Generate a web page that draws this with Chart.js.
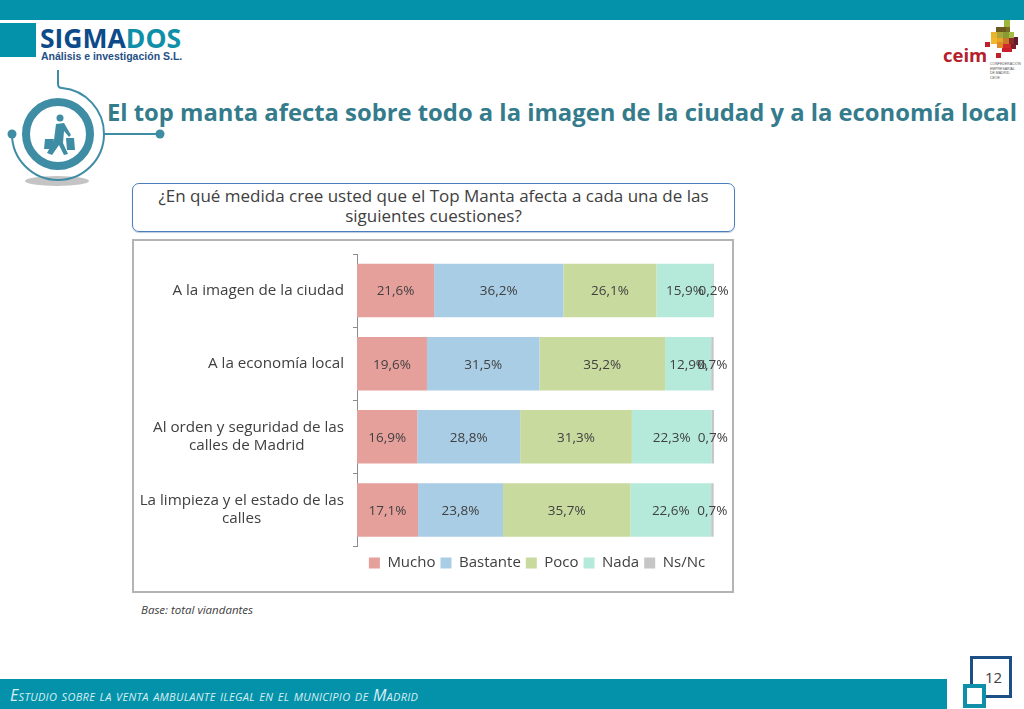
<!DOCTYPE html>
<html lang="es">
<head>
<meta charset="utf-8">
<title>Top manta</title>
<style>
html,body{margin:0;padding:0;background:#fff;width:1024px;height:709px;overflow:hidden}
body{position:relative;font-family:'Open Sans',sans-serif;color:#404040}
.abs{position:absolute;white-space:nowrap}
</style>
<script src="https://cdn.jsdelivr.net/npm/chart.js@4"></script>
</head>
<body>
<svg class="abs" style="left:0;top:0" width="1024" height="709">
  <rect x="0" y="0" width="1024" height="20" fill="#0492ab"/>
  <rect x="0" y="23" width="36" height="34" fill="#0492ab"/>
  <rect x="0" y="679" width="947" height="30" fill="#0492ab"/>
  <!-- icon -->
  <ellipse cx="57" cy="181" rx="32" ry="5" fill="#c4c4c4"/>
  <path d="M58 70V84Q58 88 62 88A46 46 0 0 1 104 134A46 46 0 0 1 12 134" fill="none" stroke="#3f8ca5" stroke-width="2"/>
  <circle cx="58" cy="134" r="32" fill="none" stroke="#3f8ca5" stroke-width="8"/>
  <circle cx="12" cy="134" r="4.5" fill="#3f8ca5"/>
  <circle cx="160" cy="134" r="4.5" fill="#3f8ca5"/>
  <path d="M105 134H160" stroke="#3f8ca5" stroke-width="2"/>
  <circle cx="60" cy="118" r="3.5" fill="#3f8ca5"/>
  <path d="M56 124L64 123L71 135L69 137L64 131L63 143L68 154L64 155L59 145L52 155L47 153L54 140Z" fill="#3f8ca5"/>
  <path d="M45 139H54L52 149H44ZM66 138H74L75 150H67Z" fill="#3f8ca5"/>
  <!-- ceim mosaic -->
  <g id="mosaic"></g>
  <!-- page number box -->
  <rect x="971.5" y="657.5" width="39" height="39" fill="#fff" stroke="#1c4f86" stroke-width="3"/>
  <rect x="965" y="686" width="19" height="20" fill="#fff" stroke="#0f8fa8" stroke-width="4"/>
</svg>

<div class="abs" style="left:40px;top:20px;font:bold 26.5px 'Open Sans',sans-serif;color:#0c4a8a">SIGMA<span style="color:#0f8fa8">DOS</span></div>
<div class="abs" style="left:41px;top:50px;font:bold 10.5px 'Liberation Sans',sans-serif;color:#1f4f85">Análisis e investigación S.L.</div>
<div class="abs" style="left:943px;top:42px;font:bold 18.5px 'Open Sans',sans-serif;color:#b5202a">ceim</div>
<div class="abs" style="left:990px;top:62px;font:3.5px/4.7px 'Liberation Sans',sans-serif;color:#555">CONFEDERACIÓN<br>EMPRESARIAL<br>DE MADRID<br>CEOE</div>

<div class="abs" style="left:107px;top:96px;font:bold 23.8px 'Open Sans',sans-serif;color:#347b8c">El top manta afecta sobre todo a la imagen de la ciudad y a la economía local</div>

<div class="abs" style="left:132px;top:183px;width:603px;height:49px;border:1px solid #4a7ebb;border-radius:7px;text-align:center;font:17px/20px 'Open Sans',sans-serif;padding-top:2px;box-sizing:border-box;box-shadow:0 1px 1px #bcd">¿En qué medida cree usted que el Top Manta afecta a cada una de las<br>siguientes cuestiones?</div>

<div class="abs" style="left:132px;top:239px;width:602px;height:354px;border:2px solid #b4b4b4;box-sizing:border-box"></div>
<div class="abs" style="left:133px;top:240px;width:600px;height:352px"><canvas id="topMantaChart" width="600" height="352"></canvas></div>

<div class="abs" style="left:141px;top:602px;font:italic 11.5px 'Open Sans',sans-serif;color:#404040">Base: total viandantes</div>
<div class="abs" style="left:10px;top:684px;font:italic 16px 'Open Sans',sans-serif;font-variant:small-caps;letter-spacing:.3px;color:#d8eef2">Estudio sobre la venta ambulante ilegal en el municipio de Madrid</div>
<div class="abs" style="left:985px;top:667px;font:15px 'Open Sans',sans-serif;color:#404040">12</div>

<script>
const categories = [
  ['A la imagen de la ciudad'],
  ['A la economía local'],
  ['Al orden y seguridad de las', 'calles de Madrid'],
  ['La limpieza y el estado de las', 'calles']
]
const mucho = [21.6, 19.6, 16.9, 17.1]
const bastante = [36.2, 31.5, 28.8, 23.8]
const poco = [26.1, 35.2, 31.3, 35.7]
const nada = [15.9, 12.9, 22.3, 22.6]
const nsNc = [0.2, 0.7, 0.7, 0.7]

const fontFamily = "'Open Sans', sans-serif"
const textColor = '#404040'

// ceim logo squares, only decoration
const mosaic = [
  [1004,20,6,7,'#9cb83a'],[996,27,10,6,'#6b5a1e'],[1006,27,4,6,'#7c6a25'],
  [991,32,6,6,'#e9b32a'],[997,32,6,6,'#a9a63a'],[1003,32,6,6,'#8c9a35'],[1009,32,5,6,'#a3bc45'],
  [991,38,6,6,'#f0b92d'],[997,38,6,4,'#e8a628'],[1003,38,6,6,'#c9782a'],[1009,38,5,6,'#8c2a2a'],[1014,37,4,8,'#5e1c2c'],
  [997,42,6,6,'#e08a28'],[1003,44,8,6,'#d02a2a'],[1011,44,5,5,'#7a1f2a'],[985,42,5,5,'#c0202a'],[996,53,5,5,'#c0202a'],[1002,48,10,4,'#c8202a']
]
document.getElementById('mosaic').innerHTML = mosaic.map(m =>
  `<rect x="${m[0]}" y="${m[1]}" width="${m[2]}" height="${m[3]}" fill="${m[4]}"/>`).join('')

// writes the percentage in the middle of each segment
const segmentLabels = {
  id: 'segmentLabels',
  afterDatasetsDraw(chart) {
    const ctx = chart.ctx
    ctx.save()
    ctx.font = '13.5px ' + fontFamily
    ctx.fillStyle = textColor
    ctx.textAlign = 'center'
    ctx.textBaseline = 'middle'
    chart.data.datasets.forEach((ds, i) => {
      chart.getDatasetMeta(i).data.forEach((bar, j) => {
        let x = (bar.x + bar.base) / 2
        ctx.fillText(ds.data[j].toFixed(1).replace('.', ',') + '%', x, bar.y + 1)
      })
    })
    ctx.restore()
  }
}

// the legend sits under the plot, not under the whole box
const legendUnderPlot = {
  id: 'legendUnderPlot',
  afterLayout(chart) {
    chart.legend.left = 200
    chart.legend.right = 608
    chart.legend.top += 4
    chart.legend.bottom += 4
  }
}

// second lines of the labels are centred under the first one
let measure = document.createElement('canvas').getContext('2d')
measure.font = '15.2px ' + fontFamily
function tickLines(lines) {
  if (lines.length < 2) return lines
  let gap = measure.measureText(lines[0]).width - measure.measureText(lines[1]).width
  let n = Math.round(gap / 2 / measure.measureText('\u00a0').width)
  return [lines[0], lines[1] + '\u00a0'.repeat(n)]
}

let topMantaChart = document.getElementById('topMantaChart').getContext('2d')
let topManta = new Chart(topMantaChart, {
  type: 'bar',
  data: {
    labels: categories,
    datasets: [
      { label: 'Mucho', data: mucho, backgroundColor: '#e6a09c' },
      { label: 'Bastante', data: bastante, backgroundColor: '#a9cde5' },
      { label: 'Poco', data: poco, backgroundColor: '#c9da9f' },
      { label: 'Nada', data: nada, backgroundColor: '#b5eadb' },
      { label: 'Ns/Nc', data: nsNc, backgroundColor: '#c6c6c6' }
    ]
  },
  options: {
    indexAxis: 'y',
    responsive: false,
    animation: false,
    barPercentage: 0.73,
    categoryPercentage: 1,
    layout: { padding: { top: 14, right: 19, bottom: 15.5, left: 0 } },
    scales: {
      x: { stacked: true, min: 0, max: 100, display: false },
      y: {
        stacked: true,
        afterFit(scale) {
          scale.width = 224
          scale.paddingTop = 0
          scale.paddingBottom = 0
        },
        border: { display: true, color: '#8c8c8c', width: 1 },
        grid: { drawOnChartArea: false, offset: true, tickLength: 4, color: '#8c8c8c' },
        ticks: {
          font: { family: fontFamily, size: 15.2 },
          color: textColor,
          padding: 9,
          autoSkip: false,
          callback(value) { return tickLines(categories[value]) }
        }
      }
    },
    plugins: {
      tooltip: { enabled: false },
      legend: {
        position: 'bottom',
        labels: {
          font: { family: fontFamily, size: 15 },
          color: textColor,
          boxWidth: 11,
          boxHeight: 11,
          padding: 5
        }
      }
    }
  },
  plugins: [segmentLabels, legendUnderPlot]
})
</script>
</body>
</html>
